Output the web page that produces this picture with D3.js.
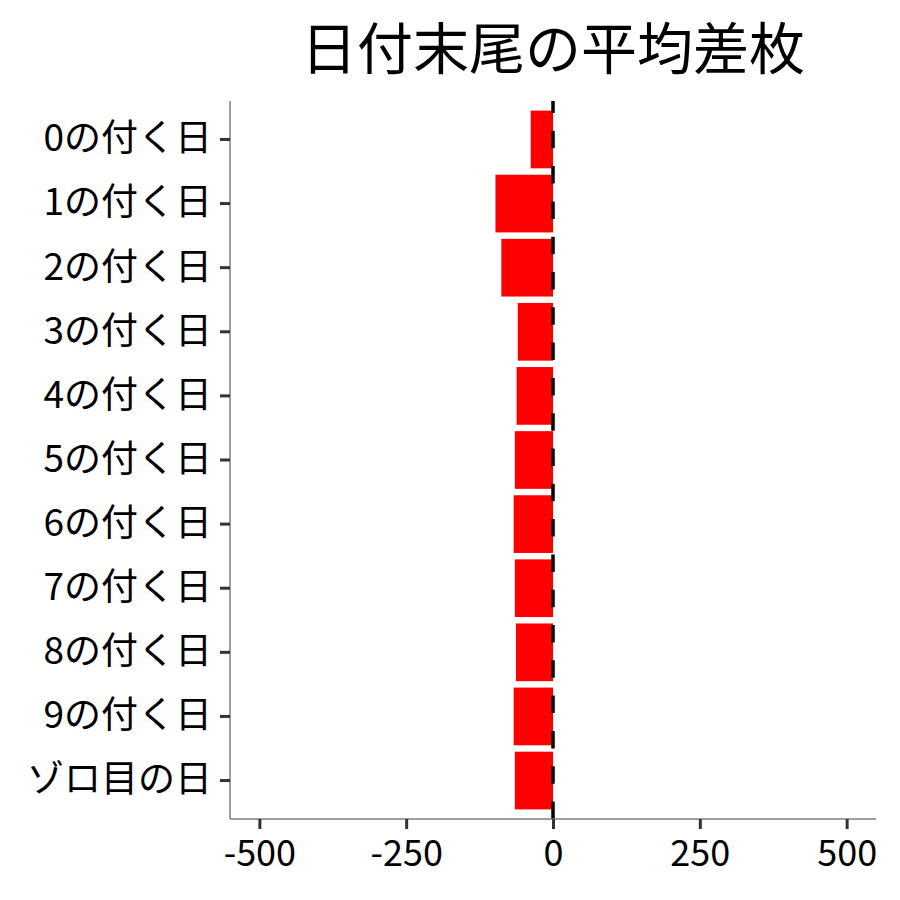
<!DOCTYPE html>
<html>
<head>
<meta charset="utf-8">
<script src="https://cdn.jsdelivr.net/npm/d3@7"></script>
<style>
  html, body { margin: 0; padding: 0; background: #fff; }
  svg { display: block; }
  text { font-family: "Noto Sans CJK JP", "Noto Sans", sans-serif; fill: #000; }
</style>
</head>
<body>
<svg id="chart" width="900" height="900"></svg>
<script>
const title = "日付末尾の平均差枚";
const categories = ["0の付く日","1の付く日","2の付く日","3の付く日","4の付く日","5の付く日","6の付く日","7の付く日","8の付く日","9の付く日","ゾロ目の日"];
const values = [-38, -98, -88, -60, -62, -65, -67, -65, -63, -67, -65];
const xTicks = [-500, -250, 0, 250, 500];

const svg = d3.select("#chart");
const panel = { left: 230, right: 876, top: 101, bottom: 819 };

const x = d3.scaleLinear().domain([-550, 550]).range([panel.left, panel.right]);
// discrete scale with ggplot-like 0.6 expansion and 0.9 bar width
const step = (panel.bottom - panel.top) / (categories.length - 1 + 1.2);
const y = d3.scaleBand()
  .domain(categories)
  .range([panel.top + 0.6 * step - step / 2, panel.bottom - 0.6 * step + step / 2])
  .paddingInner(0.1).paddingOuter(0.05);

// bars
svg.append("g").selectAll("rect")
  .data(categories.map((c, i) => ({ c, v: values[i] })))
  .join("rect")
  .attr("x", d => x(Math.min(0, d.v)))
  .attr("width", d => Math.abs(x(d.v) - x(0)))
  .attr("y", d => y(d.c))
  .attr("height", y.bandwidth())
  .attr("fill", "#ff0000");

// zero dashed line (drawn from bottom upward)
svg.append("line")
  .attr("x1", x(0)).attr("x2", x(0))
  .attr("y1", panel.bottom).attr("y2", panel.top)
  .attr("stroke", "#000").attr("stroke-width", 3.5)
  .attr("stroke-dasharray", "17.5,17.8");

// x axis
const xAxis = d3.axisBottom(x).tickValues(xTicks).tickSize(10).tickPadding(11).tickFormat(d => String(d));
const gx = svg.append("g").attr("transform", `translate(0,${panel.bottom})`).call(xAxis);
gx.select(".domain").attr("stroke", "#7f7f7f").attr("stroke-width", 1.5)
  .attr("d", `M${panel.left},0H${panel.right}`);
gx.selectAll(".tick line").attr("stroke", "#333").attr("stroke-width", 3);
gx.selectAll(".tick text").attr("font-size", 36).attr("fill", "#000")
  .style("font-family", '"Noto Sans CJK JP", sans-serif');

// y axis
const yAxis = d3.axisLeft(y).tickSize(10).tickPadding(8);
const gy = svg.append("g").attr("transform", `translate(${panel.left},0)`).call(yAxis);
gy.select(".domain").attr("stroke", "#7f7f7f").attr("stroke-width", 1.5)
  .attr("d", `M0,${panel.top}V${panel.bottom}`);
gy.selectAll(".tick line").attr("stroke", "#333").attr("stroke-width", 3);
gy.selectAll(".tick text").attr("font-size", 37).attr("fill", "#000")
  .style("font-family", '"Noto Sans CJK JP", sans-serif');

// title
svg.append("text")
  .attr("x", (panel.left + panel.right) / 2)
  .attr("y", 44)
  .attr("text-anchor", "middle")
  .attr("dominant-baseline", "central")
  .attr("font-size", 56)
  .text(title);
</script>
</body>
</html>
